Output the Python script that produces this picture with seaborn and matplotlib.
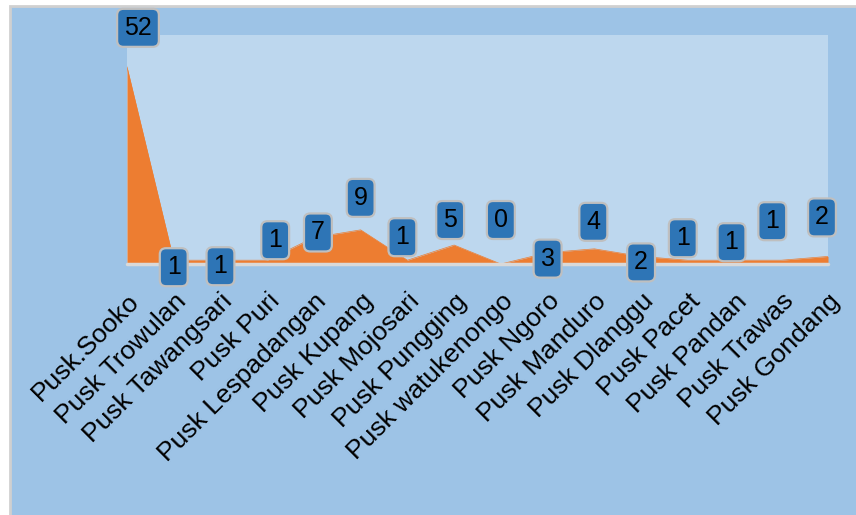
import matplotlib
matplotlib.use("Agg")
import matplotlib.pyplot as plt
from matplotlib.patches import Rectangle
import seaborn as sns
import pandas as pd

puskesmas = [
    "Pusk.Sooko", "Pusk Trowulan", "Pusk Tawangsari", "Pusk Puri",
    "Pusk Lespadangan", "Pusk Kupang", "Pusk Mojosari", "Pusk Pungging",
    "Pusk watukenongo", "Pusk Ngoro", "Pusk Manduro", "Pusk Dlanggu",
    "Pusk Pacet", "Pusk Pandan", "Pusk Trawas", "Pusk Gondang",
]
jumlah = [52, 1, 1, 1, 7, 9, 1, 5, 0, 3, 4, 2, 1, 1, 1, 2]

# label box offsets in pixels (dx, dy) from each point
label_dx = [11, 0, 0, 8, 4, 0, -5, -4, 0, 0, -1, 0, -5, -3, -9, -6]
label_dy = [39, -7, -6, 20, 5, 32, 23, 25, 44, -6, 27, -6, 22, 18, 39, 39]

df = pd.DataFrame({"x": range(len(puskesmas)), "nilai": jumlah})

sns.set_style("white")
plt.rcParams["font.family"] = ["Liberation Sans", "DejaVu Sans"]

fig = plt.figure(figsize=(8.56, 5.15), dpi=100, facecolor="white")
fig.patches.append(
    Rectangle(
        (10 / 856, -0.01), 1.0, 1 - 6 / 515 + 0.01,
        transform=fig.transFigure, facecolor="#9DC3E6",
        edgecolor="#D0D0D0", linewidth=2, zorder=-1
    )
)

ax = fig.add_axes([127 / 856, 251 / 515, 701 / 856, 229 / 515])
ax.set_zorder(1)
ax.set_facecolor("#BDD7EE")

ax.fill_between(df["x"], df["nilai"], color="#ED7D31", linewidth=0, zorder=2)
sns.lineplot(data=df, x="x", y="nilai", ax=ax, color="#ED7D31",
             linewidth=0.5, zorder=2)

ax.set_xlim(0, len(puskesmas) - 1)
ax.set_ylim(0, 60.4)
ax.axhline(0, color="#D9D9D9", linewidth=2.5, zorder=3, clip_on=False)

for spine in ax.spines.values():
    spine.set_visible(False)

ax.set_yticks([])
ax.set_xticks(df["x"])
ax.set_xticklabels(puskesmas, rotation=45, ha="right",
                   rotation_mode="anchor", fontsize=19, color="black")
ax.tick_params(axis="x", length=0, pad=18)
ax.set_xlabel("")
ax.set_ylabel("")

for i, v in enumerate(jumlah):
    ax.annotate(
        str(v), (i, v), xytext=(label_dx[i] * 0.72, label_dy[i] * 0.72),
        textcoords="offset points", ha="center", va="center",
        fontsize=18, color="black", zorder=5, annotation_clip=False,
        bbox=dict(boxstyle="round,pad=0.28,rounding_size=0.25",
                  facecolor="#2E75B6", edgecolor="#BFBFBF", linewidth=1.6)
    )

fig.savefig("out.png", dpi=100, facecolor="white")
